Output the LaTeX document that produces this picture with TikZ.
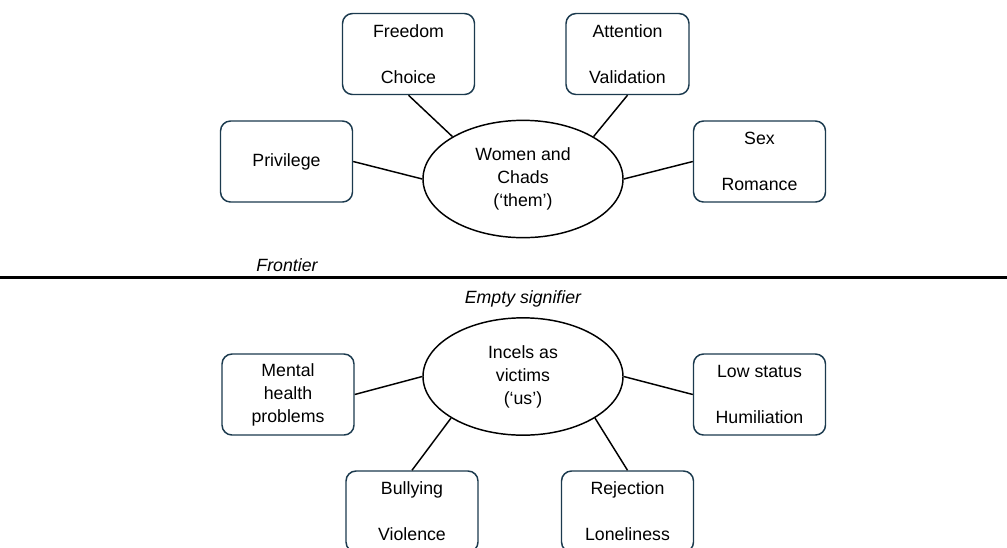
\documentclass[tikz,border=0pt]{standalone}
\usepackage{fontspec}
\setmainfont{Liberation Sans}
\usetikzlibrary{shapes.geometric}
\definecolor{boxborder}{HTML}{1B3A4E}
\tikzset{
  box/.style={draw=boxborder, line width=1.1pt, rounded corners=7.5pt, fill=white,
    minimum width=99pt, minimum height=60.75pt, inner sep=0pt, align=center},
  twoline/.style={box, font=\fontsize{13.3}{34.5}\selectfont},
  oneline/.style={box, font=\fontsize{13.3}{17.25}\selectfont},
  hub/.style={draw=black, line width=1.1pt, ellipse, minimum width=150pt, minimum height=88pt,
    inner sep=0pt, align=center, font=\fontsize{13.3}{17.25}\selectfont},
  link/.style={draw=black, line width=1.1pt},
  caption/.style={font=\fontsize{13.3}{15}\selectfont\itshape, inner sep=0pt}
}
\begin{document}
\begin{tikzpicture}[x=0.75pt, y=-0.75pt]
\clip (0,0) rectangle (1007,547);
\fill[white] (0,0) rectangle (1007,547);
% upper hub
\node[hub] (them) at (523,179) {Women and\\Chads\\(‘them’)};
\node[twoline] (freedom) at (408.5,54) {Freedom\\Choice};
\node[twoline, minimum width=92.25pt] (attention) at (627.5,54) {Attention\\Validation};
\node[oneline] (privilege) at (286.5,161.5) {Privilege};
\node[twoline] (sex) at (759.5,161.5) {Sex\\Romance};
\draw[link] (freedom.south) -- (them.149);
\draw[link] (attention.south) -- (them.31);
\draw[link] (privilege.east) -- (them.west);
\draw[link] (sex.west) -- (them.east);
% frontier
\coordinate (fl) at (0,277.5);
\coordinate (fr) at (1007,277.5);
\draw[line width=2pt] (fl) -- (fr);
\node[caption] (frontier) at (287,265) {Frontier};
\node[caption] (empty) at (523,299) {Empty signifier};
% lower hub
\node[hub] (us) at (523,376.5) {Incels as\\victims\\(‘us’)};
\node[oneline] (mental) at (288,394.5) {Mental\\health\\problems};
\node[twoline] (low) at (759.5,394.5) {Low status\\Humiliation};
\node[twoline] (bullying) at (412,511.5) {Bullying\\Violence};
\node[twoline] (rejection) at (627.5,511.5) {Rejection\\Loneliness};
\draw[link] (mental.east) -- (us.west);
\draw[link] (low.west) -- (us.east);
\draw[link] (us.210) -- (bullying.north);
\draw[link] (us.330) -- (rejection.north);
\end{tikzpicture}
\end{document}
